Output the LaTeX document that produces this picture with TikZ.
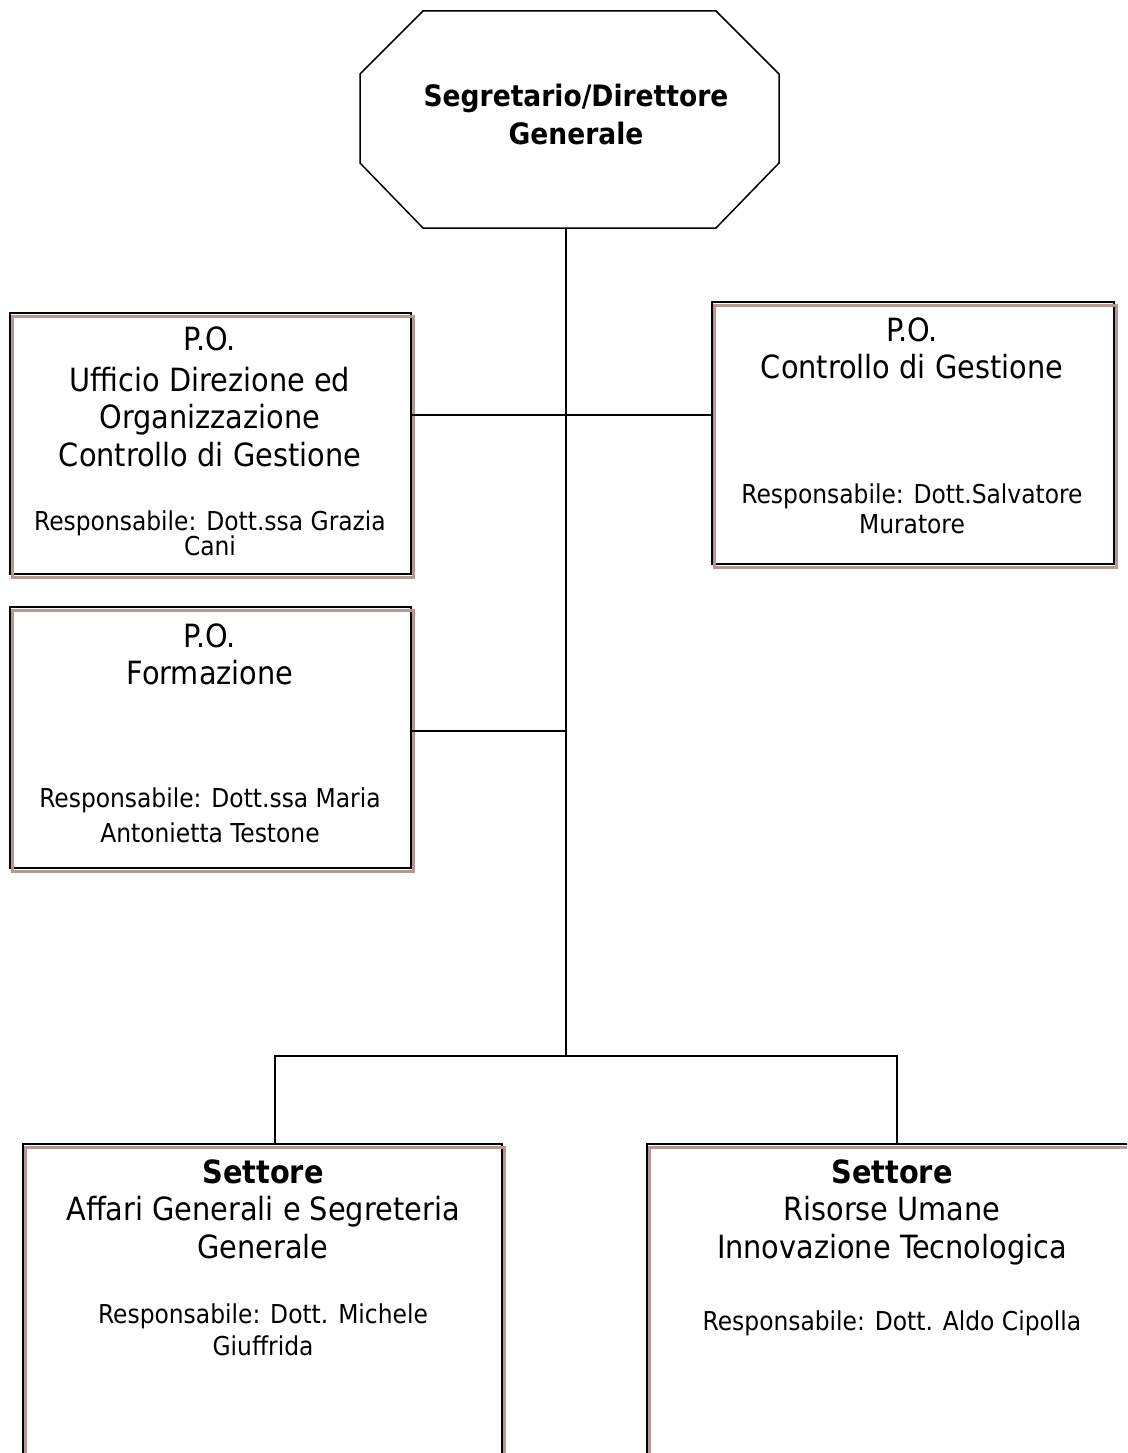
\documentclass[tikz,border=0pt]{standalone}
\usepackage{fontspec}
\setmainfont{DejaVu Sans Condensed}
\definecolor{shadowc}{RGB}{185,150,150}
\begin{document}
\begin{tikzpicture}[x=1pt,y=-1pt,
  conn/.style={line width=1.5pt},
  frame/.style={draw=black,line width=2.5pt,rectangle,inner sep=0,outer sep=0,anchor=north west},
  shade/.style={draw=shadowc,line width=2.2pt},
  big/.style={font=\fontsize{32}{36}\selectfont,anchor=base,inner sep=0},
  bigb/.style={font=\bfseries\fontsize{32}{36}\selectfont,anchor=base,inner sep=0},
  topb/.style={font=\bfseries\fontsize{29.5}{38}\selectfont,align=center,inner sep=0},
  small/.style={font=\fontsize{26}{30}\selectfont,anchor=base,inner sep=0}]
\useasboundingbox (0,0) rectangle (1127,1453);
\clip (0,0) rectangle (1127,1453);

% top octagon
\node[topb] (top) at (576,115) {Segretario/Direttore\\Generale};
\draw[line width=1.5pt] (423,11) -- (716,11) -- (779,74) -- (779,163) -- (716,228)
  -- (423,228) -- (360,163) -- (360,74) -- cycle;
\coordinate (topbot) at (566,228);

% boxes
\node[frame,minimum width=401pt,minimum height=261pt] (b1) at (10,313) {};
\node[frame,minimum width=402pt,minimum height=262pt] (b2) at (712,302) {};
\node[frame,minimum width=401pt,minimum height=261pt] (b3) at (10,607) {};
\node[frame,minimum width=479pt,minimum height=400pt] (b4) at (23,1144) {};
\node[frame,minimum width=500pt,minimum height=400pt] (b5) at (647,1144) {};
\foreach \b in {b1,b2,b3,b4,b5}
  \draw[shade] ([shift={(2.5,3.5)}]\b.north west) rectangle ([shift={(2.5,3.5)}]\b.south east);

% texts box 1
\node[big] (a1) at (210,350) {P.O.};
\node[big] (a2) at (210,391) {Ufficio Direzione ed};
\node[big] (a3) at (210,428) {Organizzazione};
\node[big] (a4) at (210,466) {Controllo di Gestione};
\node[small] (a5) at (210,530) {Responsabile: Dott.ssa Grazia};
\node[small] (a6) at (210,555) {Cani};
% box 2
\node[big] (c1) at (912,341) {P.O.};
\node[big] (c2) at (912,378) {Controllo di Gestione};
\node[small] (c3) at (912,503) {Responsabile: Dott.Salvatore};
\node[small] (c4) at (912,533) {Muratore};
% box 3
\node[big] (f1) at (210,647) {P.O.};
\node[big] (f2) at (210,684) {Formazione};
\node[small] (f3) at (210,807) {Responsabile: Dott.ssa Maria};
\node[small] (f4) at (210,842) {Antonietta Testone};
% box 4
\node[bigb] (s1) at (263,1183) {Settore};
\node[big] (s2) at (263,1220) {Affari Generali e Segreteria};
\node[big] (s3) at (263,1258) {Generale};
\node[small] (s4) at (263,1323) {Responsabile: Dott. Michele};
\node[small] (s5) at (263,1355) {Giuffrida};
% box 5
\node[bigb] (r1) at (892,1183) {Settore};
\node[big] (r2) at (892,1220) {Risorse Umane};
\node[big] (r3) at (892,1258) {Innovazione Tecnologica};
\node[small] (r4) at (892,1330) {Responsabile: Dott. Aldo Cipolla};

% connectors
\coordinate (j1) at (566,415);
\coordinate (j2) at (566,731);
\coordinate (j3) at (566,1056);
\coordinate (d4) at (275,1056);
\coordinate (d5) at (897,1056);
\draw[conn] (topbot) -- (j3);
\draw[conn] (b1.east |- j1) -- (b2.west |- j1);
\draw[conn] (b3.east |- j2) -- (j2);
\draw[conn] (d4 |- b4.north) -- (d4) -- (d5) -- (d5 |- b5.north);
\end{tikzpicture}
\end{document}
